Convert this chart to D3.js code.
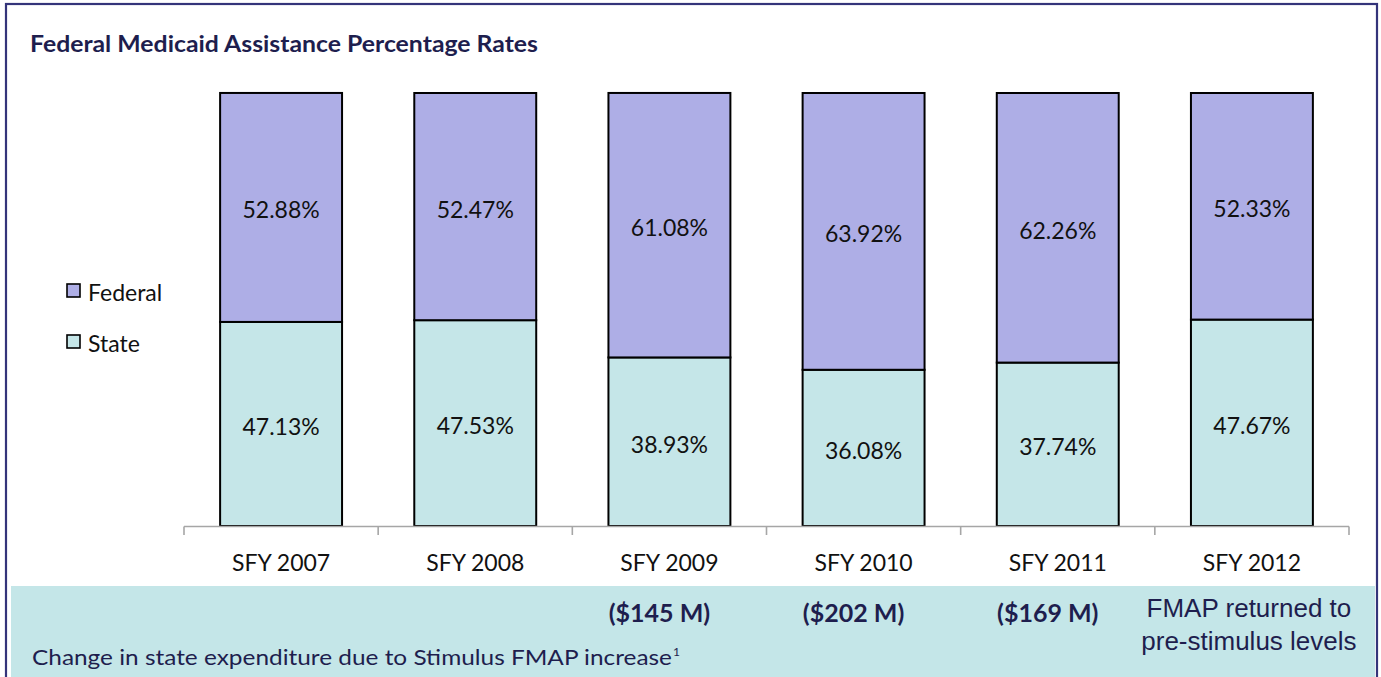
<!DOCTYPE html>
<html>
<head>
<meta charset="utf-8">
<script src="https://cdn.jsdelivr.net/npm/d3@7"></script>
<style>
  html, body { margin: 0; padding: 0; background: #fff; }
  svg { display: block; }
</style>
</head>
<body>
<svg id="chart" width="1381" height="677"></svg>
<script>
// ---- data ----
const categories = ["SFY 2007", "SFY 2008", "SFY 2009", "SFY 2010", "SFY 2011", "SFY 2012"];
const stateShare = [47.13, 47.53, 38.93, 36.08, 37.74, 47.67];
const federalShare = [52.88, 52.47, 61.08, 63.92, 62.26, 52.33];
const seriesNames = ["Federal", "State"];
const stimulusChange = ["", "", "($145 M)", "($202 M)", "($169 M)", ""];
const returnedNote = ["FMAP returned to", "pre-stimulus levels"];
const title = "Federal Medicaid Assistance Percentage Rates";
const footnote = "Change in state expenditure due to Stimulus FMAP increase";

// ---- styles ----
const COL_FED = "#aeaee6";
const COL_STATE = "#c5e6e8";
const NAVY = "#1e1e4e";
const FONT = "Lato, 'Open Sans', sans-serif";

const svg = d3.select("#chart");

// frame
svg.append("rect").attr("x", 6).attr("y", 4).attr("width", 1371).attr("height", 690)
  .attr("fill", "#fff").attr("stroke", "#34347a").attr("stroke-width", 2.2);

// bottom band
svg.append("rect").attr("x", 11).attr("y", 586).attr("width", 1364).attr("height", 100)
  .attr("fill", "#c4e6e8");

// title
svg.append("text").attr("x", 30).attr("y", 52)
  .attr("font-family", FONT).attr("font-weight", "bold").attr("font-size", 22)
  .attr("fill", NAVY).attr("textLength", 508).attr("lengthAdjust", "spacingAndGlyphs")
  .text(title);

// scales
const x = d3.scaleBand().domain(categories).range([184, 1349]).padding(0);
const barW = x.bandwidth() * 0.628;
const y = d3.scaleLinear().domain([0, 100]).range([526, 93]);

const rows = categories.map((c, i) => ({ cat: c, State: stateShare[i], Federal: federalShare[i] }));
const stack = d3.stack().keys(["State", "Federal"]);
const layers = stack(rows);
const colors = { State: COL_STATE, Federal: COL_FED };

const g = svg.append("g");
layers.forEach(layer => {
  const key = layer.key;
  g.selectAll(null).data(layer).enter().append("rect")
    .attr("x", d => x(d.data.cat) + (x.bandwidth() - barW) / 2)
    .attr("y", d => y(d[1]))
    .attr("width", barW)
    .attr("height", d => y(d[0]) - y(d[1]))
    .attr("fill", colors[key])
    .attr("stroke", "#000").attr("stroke-width", 2);
  g.selectAll(null).data(layer).enter().append("text")
    .attr("x", d => x(d.data.cat) + x.bandwidth() / 2)
    .attr("y", d => (y(d[0]) + y(d[1])) / 2 + 11)
    .attr("text-anchor", "middle")
    .attr("font-family", FONT).attr("font-size", 23).attr("fill", "#111")
    .text(d => d.data[key].toFixed(2) + "%");
});

// axis line with category boundary ticks
const axisY = 526.5;
const axG = svg.append("g").attr("stroke", "#a6a6a6").attr("stroke-width", 1.6);
axG.append("line").attr("x1", x.range()[0]).attr("x2", x.range()[1]).attr("y1", axisY).attr("y2", axisY);
const bounds = categories.map(c => x(c)).concat([x(categories[categories.length - 1]) + x.bandwidth()]);
axG.selectAll(null).data(bounds).enter().append("line")
  .attr("x1", d => d).attr("x2", d => d).attr("y1", axisY).attr("y2", 535);

svg.append("g").selectAll("text").data(categories).enter().append("text")
  .attr("x", d => x(d) + x.bandwidth() / 2)
  .attr("y", 571)
  .attr("text-anchor", "middle")
  .attr("font-family", FONT).attr("font-size", 23).attr("fill", "#111")
  .text(d => d);

// legend
const legend = svg.append("g");
seriesNames.forEach((name, i) => {
  const ly = 284 + i * 51;
  legend.append("rect").attr("x", 67).attr("y", ly).attr("width", 13).attr("height", 13)
    .attr("fill", colors[name]).attr("stroke", "#000").attr("stroke-width", 1.6);
  legend.append("text").attr("x", 88).attr("y", ly + 17)
    .attr("font-family", FONT).attr("font-size", 23).attr("fill", "#111")
    .text(name);
});

// band annotations
svg.append("g").selectAll("text").data(categories.map((c, i) => ({ c, t: stimulusChange[i] })).filter(d => d.t))
  .enter().append("text")
  .attr("x", d => x(d.c) + x.bandwidth() / 2 - 10)
  .attr("y", 622)
  .attr("text-anchor", "middle")
  .attr("font-family", FONT).attr("font-weight", "bold").attr("font-size", 25).attr("fill", NAVY)
  .text(d => d.t);

const lastCat = categories[categories.length - 1];
svg.append("g").selectAll("text").data(returnedNote).enter().append("text")
  .attr("x", x(lastCat) + x.bandwidth() / 2 - 3)
  .attr("y", (d, i) => 617 + i * 33)
  .attr("text-anchor", "middle")
  .attr("font-family", "'Liberation Sans', Arial, sans-serif").attr("font-size", 26).attr("fill", NAVY)
  .text(d => d);

const fn = svg.append("text").attr("x", 32).attr("y", 665)
  .attr("font-family", FONT).attr("font-size", 22).attr("fill", NAVY);
fn.append("tspan").attr("textLength", 640).attr("lengthAdjust", "spacingAndGlyphs").text(footnote);
fn.append("tspan").attr("font-size", 12).attr("dy", -9).attr("dx", 1).text("1");
</script>
</body>
</html>
